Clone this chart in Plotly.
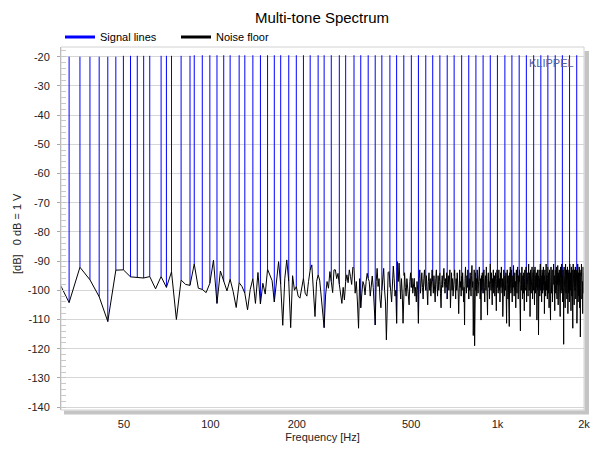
import math
import plotly.graph_objects as go

# ---------------- data ----------------
bin_hz = 48000 / 16384          # FFT bin spacing [Hz]
noise_first_bin = 10

# noise floor level per FFT bin [dB], starting at bin 10
noise_db = [
    -96.0, -104.2, -92.1, -96.4, -102.2, -110.7, -93.1, -93.0, -95.4, -95.5,      # 10
    -95.8, -95.3, -99.5, -95.3, -99.0, -93.7, -110.0, -96.5, -98.0, -98.3,       # 20
    -91.0, -99.3, -99.7, -100.8, -97.6, -89.7, -104.5, -93.4, -97.0, -100.2,     # 30
    -96.2, -100.5, -105.9, -97.4, -98.7, -101.0, -106.7, -99.7, -96.0, -104.5,   # 40
    -93.9, -104.7, -97.6, -101.3, -92.8, -95.0, -96.7, -104.0, -96.0, -90.2,     # 50
    -98.0, -112.0, -96.0, -89.6, -97.0, -112.8, -95.0, -100.0, -98.7, -102.0,    # 60
    -102.7, -99.0, -95.9, -101.0, -102.0, -97.0, -93.0, -91.3, -100.0, -109.0,   # 70
    -97.0, -94.7, -96.5, -103.0, -108.0, -112.8, -101.6, -97.0, -99.3, -93.6,    # 80
    -97.0, -100.8, -93.0, -93.0, -96.0, -94.2, -98.0, -101.0, -104.5, -99.0,     # 90
    -103.3, -97.0, -94.7, -97.4, -93.0, -95.3, -98.0, -92.1, -92.5, -101.0,      # 100
    -97.0, -104.0, -113.0, -96.0, -106.0, -101.0, -97.0, -98.2, -101.6, -97.0,   # 110
    -94.2, -95.9, -97.0, -102.0, -98.0, -95.1, -99.0, -104.0, -111.9, -97.0,     # 120
    -92.5, -98.7, -96.0, -103.0, -106.0, -99.9, -96.0, -92.5, -100.0, -104.0,    # 130
    -117.0, -98.0, -93.9, -93.6, -99.0, -100.5, -104.0, -97.0, -91.7, -96.0,     # 140
    -102.0, -100.0, -111.3, -90.2, -97.0, -90.7, -99.0, -103.0, -96.0, -101.0,   # 150
    -111.3, -95.0, -94.0, -99.0, -102.0, -96.0, -100.0, -103.0, -105.0, -97.0,   # 160
    -94.0, -99.0, -95.9, -101.0, -98.0, -95.9, -102.0, -99.0, -104.0, -97.0,     # 170
    -100.0, -111.3, -96.0, -93.0,                                                # 180
    -101, -97, -94, -99, -103, -96, -93, -98, -100, -95,                         # 184
    -99, -105, -97, -94, -100, -96, -102, -98, -93, -97,
    -101, -95, -99, -104, -96, -93, -98, -102, -95, -100,
    -97, -94, -101, -106, -98, -95, -99, -93, -92.5, -97,
    -101, -96, -99, -94, -103, -98, -95, -100, -97, -93,
    -106, -97, -94, -100, -96, -102, -99, -95, -93, -98,
    -103, -96, -100, -94, -97, -101, -108, -96, -93, -99,
    -97, -102, -95, -100, -94, -98, -104, -99, -111.9, -96,
    -92, -98, -101, -95, -99, -93, -97, -103, -96, -100,
    -94, -98, -102, -95, -91.5, -99, -97, -115.5, -96, -93,
    -119, -97, -94, -100, -96, -102, -93, -98, -101, -95,                        # 284
    -99, -92, -97, -103, -96, -110.2, -95, -100, -94, -98,
    -101, -96, -93, -99, -104, -97, -95, -100, -92, -98,
    -102, -108.5, -96, -94, -99, -97, -103, -95, -91, -98,
    -100, -94, -97, -105, -96, -99, -93, -101, -98, -95,
    -102, -97, -94, -100, -107, -96, -93, -99, -95, -101,
    -97, -93, -100, -96, -104, -98, -94, -99, -92, -97,
    -101, -96, -109, -95, -99, -93, -98, -102, -95, -97,
    -100, -94, -99, -111.3, -96, -93, -98, -103, -95, -100,
    -97, -112.4, -94, -99, -92, -98, -101, -96, -93, -100,
    -104, -97, -95, -99, -91.5, -98, -102, -96, -94, -100,                       # 384
    -97, -106, -95, -93, -99, -101, -96, -92, -98, -103,
    -95, -100, -97, -93, -99, -96, -113.9, -98, -94, -100,
    -96, -92, -99, -103, -95, -98, -101, -94, -97, -107,
    -96, -93, -99, -95, -100, -92, -98, -104, -96, -94,
    -99, -97, -102, -95, -91, -98, -100, -94, -97, -109,
    -96, -93, -99, -101, -95, -98, -92, -97, -103, -96,
    -94, -100, -97, -93, -99, -105, -96, -92, -98, -101,
    -95, -99, -94, -97, -110.2, -96, -93, -100, -98, -95,
    -115.3, -97, -93, -99, -96, -102, -94, -91, -98, -100,
    -95, -97, -104, -96, -93, -99, -101, -94, -98, -92,                          # 484
    -97, -100, -95, -108, -96, -93, -99, -97, -102, -94,
    -91, -98, -100, -95, -97, -103, -96, -92, -99, -101,
    -94, -97, -106, -95, -93, -99, -96, -100, -110.2, -97,
    -92, -98, -101, -95, -99, -93, -104, -97, -94, -100,
    -96, -91, -98, -102, -95, -99, -107, -96, -93, -98,
    -101, -94, -97, -92, -100, -96, -103, -95, -98, -91.5,
    -99, -105, -96, -94, -100, -97, -93, -102, -95, -98,
    -109, -96, -92, -99, -101, -94, -97, -91, -100, -95,
    -98, -104, -96, -93, -99, -102, -118.5, -95, -92, -98,
    -100, -94, -97, -106, -95, -91, -99, -101, -96, -93,                         # 584
    -98, -103, -95, -100, -92, -97, -108, -96, -94, -99,
    -101, -93, -97, -104, -95, -91, -98, -100, -96, -94,
    -99, -107, -95, -92, -98, -102, -96, -93, -100, -97,
    -113, -95, -91, -99, -101, -94, -97, -105, -96, -93,
    -98, -100, -95, -92, -99, -103, -96, -94, -101, -97,
    -93, -111.3, -98, -95, -100, -91, -97, -104, -96, -94,
    -99, -102, -95, -92, -98, -106, -96, -93, -100, -116,
    -97, -94, -99, -101, -95, -91, -98, -103, -96, -93,
    -100, -97, -108, -95, -92, -99, -101, -96, -94, -98,                         # 674
]

# FFT bins carrying a multi-tone signal line
signal_bins = [
    11, 12, 13, 14, 15, 16, 17, 18, 19, 20, 21, 23, 24, 25, 27, 29, 30,
    32, 34, 36, 38, 40, 43, 45, 48, 51, 54, 57, 60, 64, 68, 72, 76, 81,
    85, 90, 96, 101, 108, 114, 121, 128, 135, 144, 152, 161, 171, 181,
    192, 203, 215, 228, 241, 256, 271, 287, 304, 322, 341, 362, 383,
    406, 430, 456, 483, 511, 542, 574, 608, 644,
]
# level of each signal line [dB]
signal_db = [-20.0] * 6 + [-19.7] * 10 + [-19.5] * (len(signal_bins) - 16)

y_tick_vals = [-20, -30, -40, -50, -60, -70, -80, -90, -100, -110, -120, -130, -140]
y_tick_text = ["-20", "-30", "-40", "-50", "-60", "-70", "-80", "-90", "-100",
               "-110", "-120", "-130", "-140"]
x_tick_vals = [50, 100, 200, 500, 1000, 2000]
x_tick_text = ["50", "100", "200", "500", "1k", "2k"]

# ---------------- figure ----------------
FONT = "Liberation Sans, Arial, sans-serif"
W, H = 591, 450
L, R, T, B = 61, 7, 47, 40
PW, PH = W - L - R, H - T - B

noise_hz = [(noise_first_bin + i) * bin_hz for i in range(len(noise_db))]

sig_x, sig_y = [], []
for b, top in zip(signal_bins, signal_db):
    f = b * bin_hz
    sig_x += [f, f, None]
    sig_y += [top, noise_db[b - noise_first_bin], None]

fig = go.Figure()
fig.add_trace(go.Scatter(x=sig_x, y=sig_y, mode="lines",
                         line=dict(color="#0000ff", width=1),
                         showlegend=False, hoverinfo="skip"))
fig.add_trace(go.Scatter(x=noise_hz, y=noise_db, mode="lines",
                         line=dict(color="#000000", width=1),
                         showlegend=False))
# legend entries (thicker sample lines)
fig.add_trace(go.Scatter(x=[None], y=[None], mode="lines", name="Signal lines",
                         line=dict(color="#0000ff", width=3), legend="legend"))
fig.add_trace(go.Scatter(x=[None], y=[None], mode="lines", name="Noise floor",
                         line=dict(color="#000000", width=3), legend="legend2"))


def px(xp):
    return (xp - L) / PW


def py(yp):
    return (H - B - yp) / PH


shapes = [
    # right shadow
    dict(type="rect", xref="paper", yref="paper", x0=px(584.5), x1=px(589),
         y0=py(414), y1=py(51), fillcolor="#c4c4c4", line=dict(width=0), layer="above"),
    # bottom shadow
    dict(type="rect", xref="paper", yref="paper", x0=px(64), x1=px(589),
         y0=py(414.5), y1=py(410.5), fillcolor="#c4c4c4", line=dict(width=0), layer="above"),
    # frame
    dict(type="rect", xref="paper", yref="paper", x0=0, x1=1, y0=0, y1=1,
         line=dict(color="#d2d2d2", width=1), fillcolor="rgba(0,0,0,0)", layer="above"),
]

leg_common = dict(orientation="h", xanchor="left", yanchor="middle", y=py(37),
                  font=dict(family=FONT, size=11, color="#000000"),
                  bgcolor="rgba(0,0,0,0)", borderwidth=0, itemclick=False,
                  itemdoubleclick=False)

fig.update_layout(
    width=W, height=H,
    margin=dict(l=L, r=R, t=T, b=B, autoexpand=False),
    paper_bgcolor="white", plot_bgcolor="white",
    font=dict(family=FONT, size=11, color="#222222"),
    title=dict(text="Multi-tone Spectrum", x=322 / W, xanchor="center",
               y=1 - 18 / H, yanchor="middle",
               font=dict(family=FONT, size=15, color="#000000")),
    showlegend=True,
    legend=dict(x=px(60), **leg_common),
    legend2=dict(x=px(176), **leg_common),
    xaxis=dict(type="log", range=[math.log10(30.2), math.log10(2000)],
               showgrid=False, zeroline=False, showline=False,
               tickvals=x_tick_vals, ticktext=x_tick_text, ticks="",
               ticklabelstandoff=6,
               tickfont=dict(family=FONT, size=11, color="#222222"),
               title=dict(text="Frequency [Hz]", standoff=4,
                          font=dict(family=FONT, size=11, color="#222222"))),
    yaxis=dict(range=[-141.0, -16.68], showgrid=True, gridcolor="#d6d6d6", gridwidth=1,
               zeroline=False, showline=True, linecolor="#a8a8a8", linewidth=1,
               tickvals=y_tick_vals, ticktext=y_tick_text,
               ticks="outside", ticklen=3, tickcolor="#a8a8a8",
               ticklabelstandoff=5,
               minor=dict(ticks="inside", ticklen=5, dtick=2, tickcolor="#c8c8c8",
                          showgrid=False),
               tickfont=dict(family=FONT, size=11, color="#222222")),
    shapes=shapes,
    annotations=[
        dict(text="[dB]   0 dB = 1 V", xref="paper", yref="paper",
             x=px(17), y=py(234), xanchor="center", yanchor="middle",
             textangle=-90, showarrow=False,
             font=dict(family=FONT, size=11, color="#222222")),
        dict(text="KLIPPEL", xref="paper", yref="paper",
             x=px(551.5), y=py(63), xanchor="center", yanchor="middle",
             showarrow=False, font=dict(family=FONT, size=11, color="#5060a0")),
    ],
)

fig.write_html("out.html",
               config={"displayModeBar": False},
               post_script="document.body.style.margin='0px';"
                           "document.body.style.overflow='hidden';")
